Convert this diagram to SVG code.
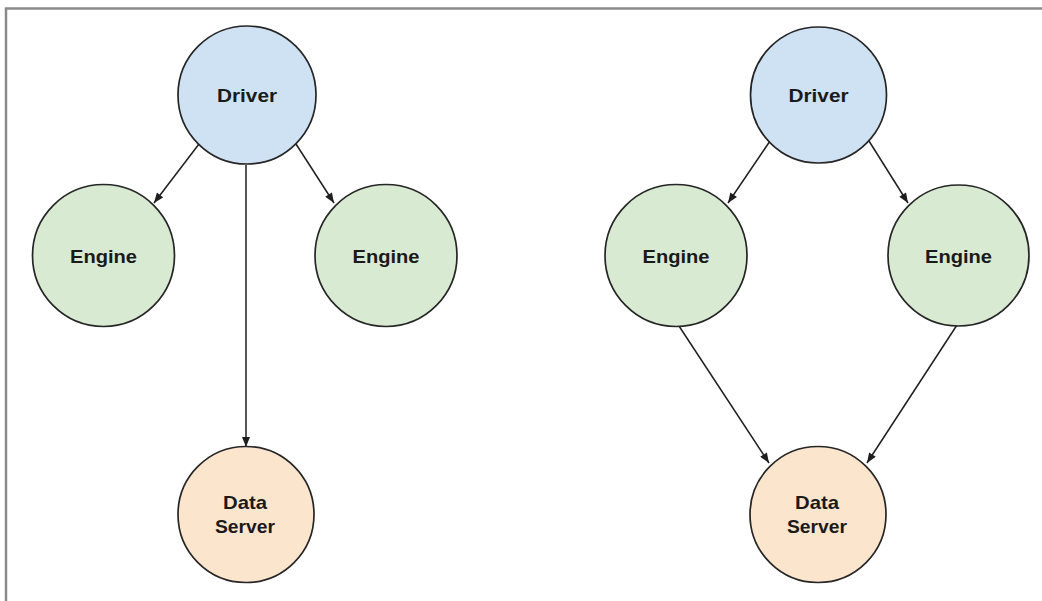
<svg xmlns="http://www.w3.org/2000/svg" width="1042" height="601" viewBox="0 0 1042 601">
  <defs>
    <marker id="arrow" viewBox="0 0 10 8" refX="10" refY="4" markerWidth="11" markerHeight="8" markerUnits="userSpaceOnUse" orient="auto">
      <path d="M0,0 L10,4 L0,8 z" fill="#1e1e1e"/>
    </marker>
  </defs>
  <style>
    .frame { stroke: #8a8a8a; stroke-width: 2.5; fill: none; }
    .node { stroke: #262626; stroke-width: 1.7; }
    .driver { fill: #cfe2f3; }
    .engine { fill: #d9ead3; }
    .server { fill: #fce5cd; }
    .label { font-family: "Liberation Sans", Arial, sans-serif; font-weight: bold; font-size: 19px; fill: #1a1a1a; text-anchor: middle; }
    .edge { stroke: #1e1e1e; stroke-width: 1.5; fill: none; marker-end: url(#arrow); }
  </style>
  <rect width="1042" height="601" fill="#ffffff"/>

  <!-- frame: top and left rule -->
  <path class="frame" d="M6,601 L6,8.5 L1042,8.5"/>

  <!-- connectors -->
  <g id="connectors">
    <!-- left layout -->
    <line class="edge" x1="199" y1="144" x2="154" y2="203"/>
    <line class="edge" x1="296" y1="144" x2="334" y2="203"/>
    <line class="edge" x1="246" y1="165" x2="246" y2="447"/>
    <!-- right layout -->
    <line class="edge" x1="770" y1="141" x2="728" y2="203"/>
    <line class="edge" x1="869" y1="141" x2="908" y2="203"/>
    <line class="edge" x1="679" y1="326" x2="769" y2="463"/>
    <line class="edge" x1="957" y1="325" x2="867" y2="463"/>
  </g>

  <!-- left layout nodes -->
  <g id="driver-a">
    <circle class="node driver" cx="247" cy="95" r="69"/>
    <text class="label" x="247" y="102" textLength="60" lengthAdjust="spacingAndGlyphs">Driver</text>
  </g>
  <g id="engine-a1">
    <circle class="node engine" cx="103.5" cy="255.5" r="71"/>
    <text class="label" x="103.5" y="263" textLength="67" lengthAdjust="spacingAndGlyphs">Engine</text>
  </g>
  <g id="engine-a2">
    <circle class="node engine" cx="386" cy="255.5" r="71"/>
    <text class="label" x="386" y="263" textLength="67" lengthAdjust="spacingAndGlyphs">Engine</text>
  </g>
  <g id="server-a">
    <circle class="node server" cx="246" cy="514.5" r="68"/>
    <text class="label" x="245" y="509" textLength="44" lengthAdjust="spacingAndGlyphs">Data</text>
    <text class="label" x="245" y="533" textLength="60" lengthAdjust="spacingAndGlyphs">Server</text>
  </g>

  <!-- right layout nodes -->
  <g id="driver-b">
    <circle class="node driver" cx="818.5" cy="95" r="68"/>
    <text class="label" x="818.5" y="102" textLength="60" lengthAdjust="spacingAndGlyphs">Driver</text>
  </g>
  <g id="engine-b1">
    <circle class="node engine" cx="676" cy="255.5" r="71"/>
    <text class="label" x="676" y="263" textLength="67" lengthAdjust="spacingAndGlyphs">Engine</text>
  </g>
  <g id="engine-b2">
    <circle class="node engine" cx="958.5" cy="255.5" r="70.5"/>
    <text class="label" x="958.5" y="263" textLength="67" lengthAdjust="spacingAndGlyphs">Engine</text>
  </g>
  <g id="server-b">
    <circle class="node server" cx="818" cy="514.5" r="68"/>
    <text class="label" x="817" y="509" textLength="44" lengthAdjust="spacingAndGlyphs">Data</text>
    <text class="label" x="817" y="533" textLength="60" lengthAdjust="spacingAndGlyphs">Server</text>
  </g>
</svg>
